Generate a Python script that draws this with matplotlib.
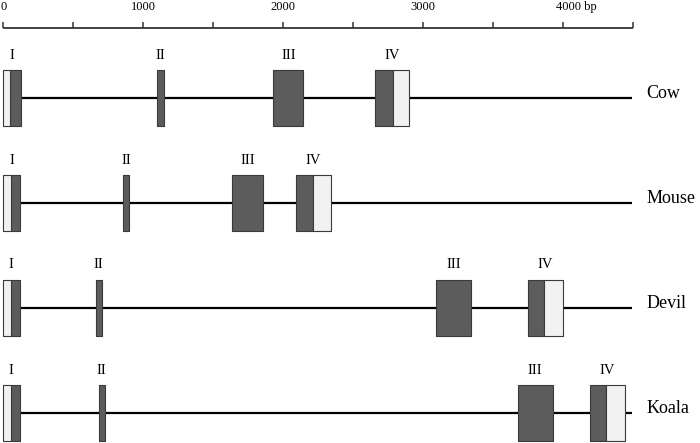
import matplotlib.pyplot as plt

# gene structures (bp); each exon I starts with the 5' UTR, exon IV ends with the 3' UTR
species = ['Cow', 'Mouse', 'Devil', 'Koala']
gene_end = [4490, 4490, 4490, 4490]
utr5 = [(0, 50), (0, 55), (0, 56), (0, 56)]
cds = [
    [(50, 128), (1102, 1148), (1931, 2145), (2660, 2783)],
    [(55, 121), (859, 902), (1638, 1855), (2091, 2216)],
    [(56, 119), (661, 706), (3092, 3342), (3749, 3867)],
    [(56, 119), (683, 725), (3679, 3925), (4191, 4309)],
]
utr3 = [(2783, 2902), (2216, 2341), (3867, 3999), (4309, 4441)]
exon_names = ['I', 'II', 'III', 'IV']

ruler_ticks = list(range(0, 4501, 500))
ruler_labels = {0: '0', 1000: '1000', 2000: '2000', 3000: '3000', 4000: '4000 bp'}

DARK = '#5c5c5c'
LIGHT = '#f1f1f1'
EDGE = '#3a3a3a'
FONT = 'Liberation Serif'

fig = plt.figure(figsize=(7, 4.43), dpi=100)
ax = fig.add_axes([0, 0, 1, 1])
# 0 bp at 3 px, 1000 bp per 140 px; y in pixels from the top
ax.set_xlim(-3 / 0.14, (700 - 3) / 0.14)
ax.set_ylim(443, 0)
ax.axis('off')

# scale ruler
ax.plot([0, ruler_ticks[-1]], [28, 28], color='#333333', lw=1.3, solid_capstyle='butt')
for t in ruler_ticks:
    ax.plot([t, t], [21.5, 28], color='#333333', lw=1.1, solid_capstyle='butt')
    if t in ruler_labels:
        lab = ruler_labels[t]
        x = t
        if lab.endswith('bp'):
            x += 95
        elif t == 0:
            x += 8
        ax.text(x, 7, lab, ha='center', va='center', fontsize=9, family=FONT)

row_y = [98, 203, 308, 413]
box_h = 56

for i, name in enumerate(species):
    y = row_y[i]
    ax.plot([0, gene_end[i]], [y, y], color='black', lw=1.6, zorder=1,
            solid_capstyle='butt')

    spans = cds[i]
    ax.broken_barh([(s, e - s) for s, e in spans], (y - box_h / 2, box_h),
                   facecolors=DARK, edgecolors=EDGE, lw=0.8, zorder=2)
    for s, e in [utr5[i], utr3[i]]:
        ax.broken_barh([(s, e - s)], (y - box_h / 2, box_h),
                       facecolors=LIGHT, edgecolors=EDGE, lw=0.8, zorder=2)

    # exon numbers over the whole exon (UTR included)
    whole = [(utr5[i][0], spans[0][1]), spans[1], spans[2], (spans[3][0], utr3[i][1])]
    for (s, e), lab in zip(whole, exon_names):
        ax.text((s + e) / 2, y - box_h / 2 - 15, lab, ha='center', va='center',
                fontsize=10.5, family=FONT)

    ax.text(gene_end[i] + 105, y, name, ha='left', va='baseline', fontsize=13, family=FONT)

fig.savefig('out.png', dpi=100)
